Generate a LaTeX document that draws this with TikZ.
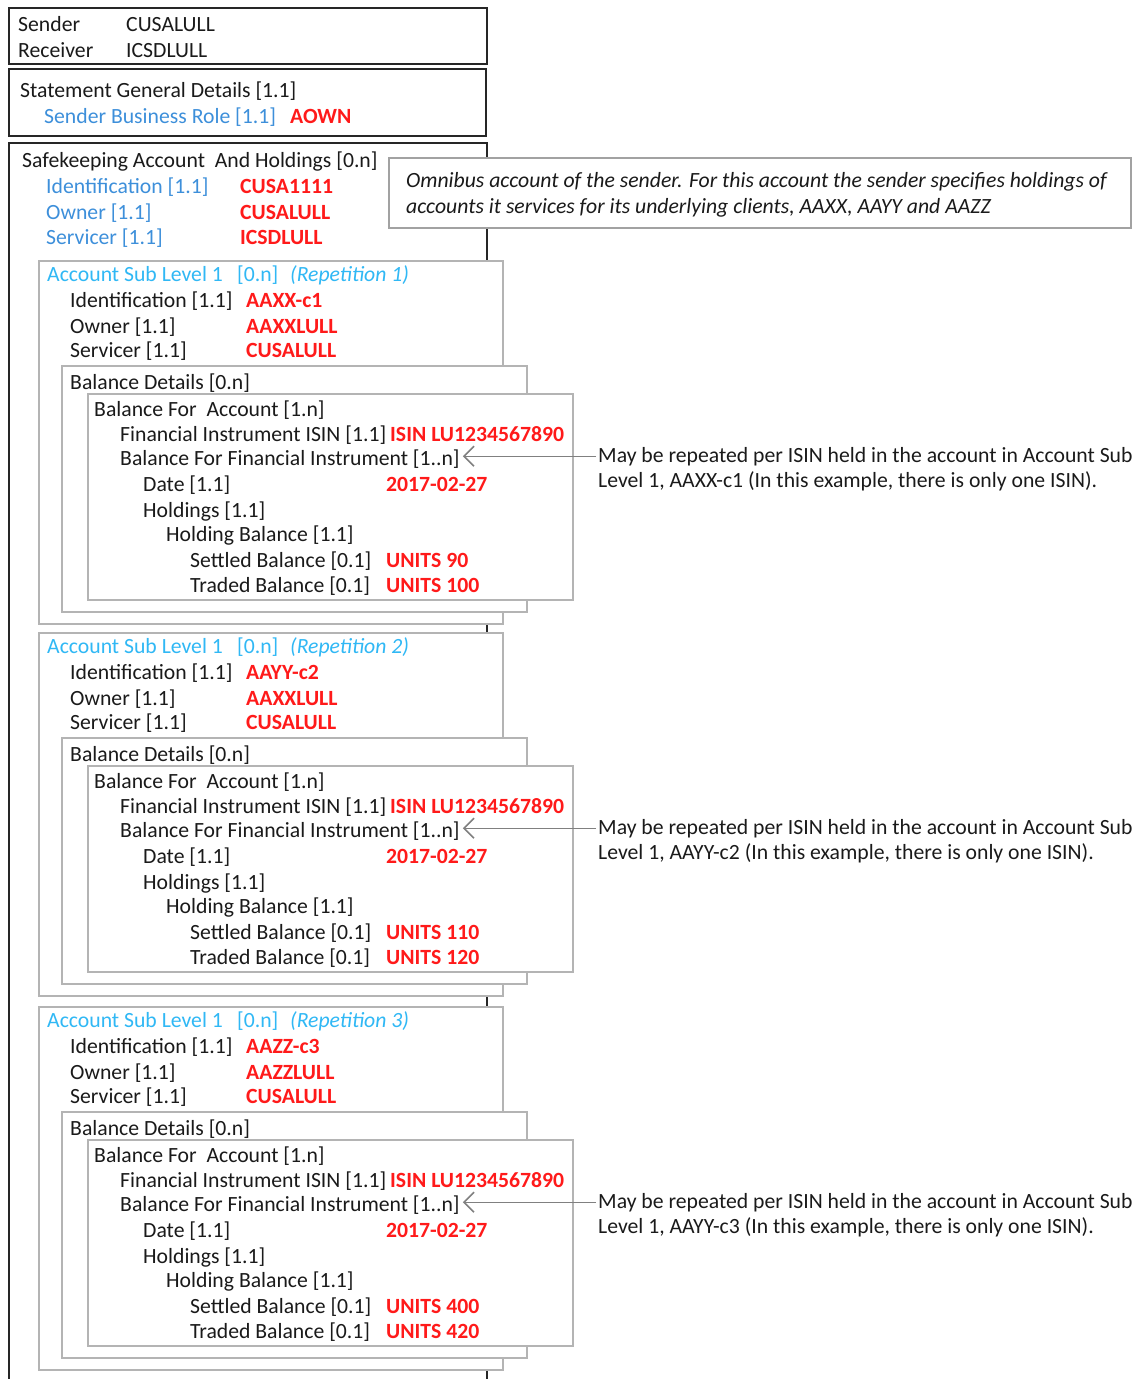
\documentclass[tikz,border=0pt]{standalone}
\usepackage{fontspec}
\setmainfont{Carlito}
\usetikzlibrary{arrows.meta,calc}
\definecolor{txt}{HTML}{1A1A1A}
\definecolor{vred}{HTML}{FF1A1A}
\definecolor{vblue}{HTML}{3D8FDA}
\definecolor{vcyan}{HTML}{30B8F5}
\definecolor{boxgray}{HTML}{B4B4B4}
\definecolor{arrgray}{HTML}{808080}
\tikzset{
  lbl/.style={anchor=base west, inner sep=0pt, text=txt, font=\fontsize{21.7}{26}\selectfont},
  val/.style={lbl, text=vred, font=\fontsize{21.7}{26}\selectfont\bfseries},
  blu/.style={lbl, text=vblue},
  cya/.style={lbl, text=vcyan},
  itl/.style={lbl, font=\fontsize{21.7}{26}\selectfont\itshape},
  blackbox/.style={draw=black!85, line width=2pt},
  graybox/.style={draw=boxgray, line width=2pt, fill=white},
  notebox/.style={draw=boxgray!90!black, line width=1.6pt, fill=white},
  pointer/.style={draw=arrgray, line width=1.4pt, -{Straight Barb[length=10pt,width=20pt,line width=1.5pt]}}
}
\begin{document}
\begin{tikzpicture}[x=1pt,y=-1pt]
\useasboundingbox (0,0) rectangle (1136,1379);
% header boxes
\draw[blackbox] (9,8) rectangle (487,64);
\draw[blackbox] (9,69) rectangle (486,136);
\draw[blackbox] (9,1380) -- (9,143) -- (487,143) -- (487,1380);
\draw[notebox] (389,158) rectangle (1131,228);

\node[lbl] (snd) at (18,31) {Sender};
\node[lbl] (sndv) at (126,31) {CUSALULL};
\node[lbl] (rcv) at (18,57) {Receiver};
\node[lbl] (rcvv) at (126,57) {ICSDLULL};

\node[lbl] (sgd) at (20,97) {Statement General Details [1.1]};
\node[blu] (sbr) at (44,123) {Sender Business Role [1.1]};
\node[val] (sbrv) at (290,123) {AOWN};

\node[lbl] (safe) at (22,167) {Safekeeping Account\ \ And Holdings [0.n]};
\node[blu] (sid) at (46,193) {Identification [1.1]};
\node[val] (sidv) at (240,193) {CUSA1111};
\node[blu] (sown) at (46,219) {Owner [1.1]};
\node[val] (sownv) at (240,219) {CUSALULL};
\node[blu] (sser) at (46,244) {Servicer [1.1]};
\node[val] (sserv) at (240,244) {ICSDLULL};

\node[itl] (note1) at (406,187) {Omnibus account of the sender. For this account the sender specifies holdings of};
\node[itl] (note2) at (406,213) {accounts it services for its underlying clients, AAXX, AAYY and AAZZ};

\foreach \r/\dy/\idv/\ownv/\setv/\trav/\ref in {1/0/AAXX-c1/AAXXLULL/90/100/AAXX-c1, 2/372/AAYY-c2/AAXXLULL/110/120/AAYY-c2, 3/746/AAZZ-c3/AAZZLULL/400/420/AAYY-c3}{
  \draw[graybox] (39,261+\dy) rectangle (503,624+\dy);
  \draw[graybox] (62,366+\dy) rectangle (527,612+\dy);
  \draw[graybox] (88,394+\dy) rectangle (573,600+\dy);
  \node[cya] (asl\r) at (47,281+\dy) {Account Sub Level 1};
  \node[cya] (aslc\r) at (237,281+\dy) {[0.n]};
  \node[cya, font=\fontsize{21.7}{26}\selectfont\itshape] (rep\r) at (290,281+\dy) {(Repetition \r)};
  \node[lbl] (id\r) at (70,307+\dy) {Identification [1.1]};
  \node[val] (idv\r) at (246,307+\dy) {\idv};
  \node[lbl] (own\r) at (70,333+\dy) {Owner [1.1]};
  \node[val] (ownv\r) at (246,333+\dy) {\ownv};
  \node[lbl] (ser\r) at (70,357+\dy) {Servicer [1.1]};
  \node[val] (serv\r) at (246,357+\dy) {CUSALULL};
  \node[lbl] (bd\r) at (70,389+\dy) {Balance Details [0.n]};
  \node[lbl] (bfa\r) at (94,416+\dy) {Balance For\ \ Account [1.n]};
  \node[lbl] (fii\r) at (120,441+\dy) {Financial Instrument ISIN [1.1]};
  \node[val] (fiiv\r) at (390,441+\dy) {ISIN LU1234567890};
  \node[lbl] (bffi\r) at (120,465+\dy) {Balance For Financial Instrument [1..n]};
  \node[lbl] (date\r) at (143,491+\dy) {Date [1.1]};
  \node[val] (datev\r) at (386,491+\dy) {2017-02-27};
  \node[lbl] (hold\r) at (143,517+\dy) {Holdings [1.1]};
  \node[lbl] (hb\r) at (166,541+\dy) {Holding Balance [1.1]};
  \node[lbl] (setl\r) at (190,567+\dy) {Settled Balance [0.1]};
  \node[val] (setlv\r) at (386,567+\dy) {UNITS \setv};
  \node[lbl] (trad\r) at (190,592+\dy) {Traded Balance [0.1]};
  \node[val] (tradv\r) at (386,592+\dy) {UNITS \trav};
  \node[lbl] (anna\r) at (598,462+\dy) {May be repeated per ISIN held in the account in Account Sub};
  \node[lbl] (annb\r) at (598,487+\dy) {Level 1, \ref\ (In this example, there is only one ISIN).};
  \draw[pointer] ([xshift=-2pt]anna\r.west) -- ([xshift=3pt]anna\r.west -| bffi\r.east);
}
\end{tikzpicture}
\end{document}
